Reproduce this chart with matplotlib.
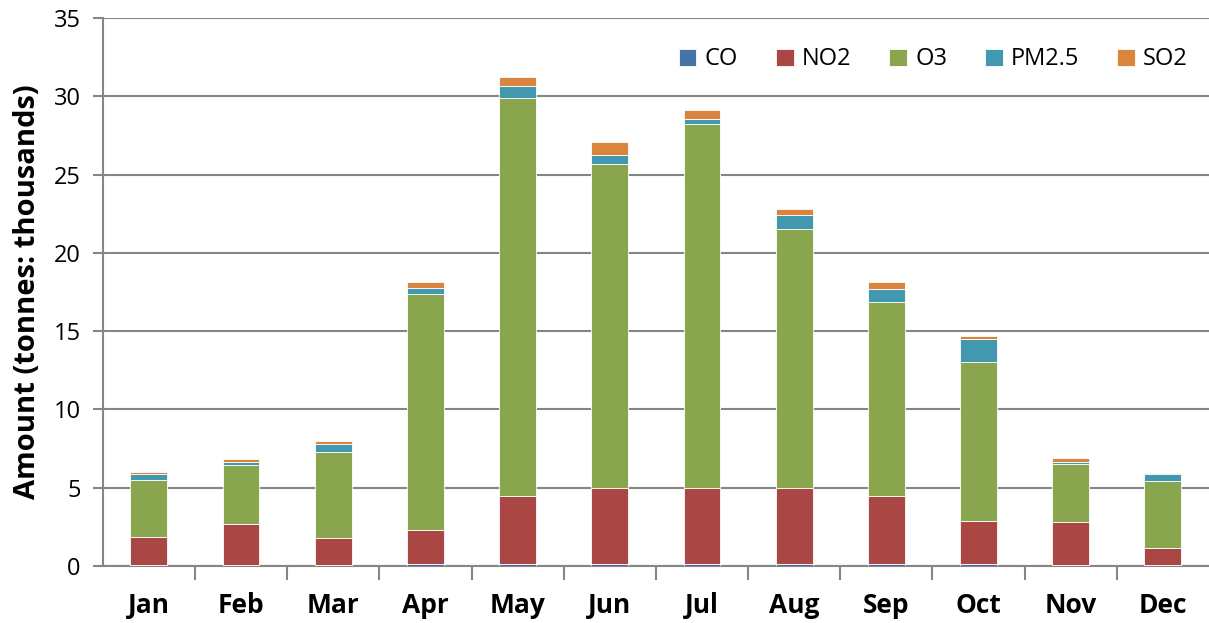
import matplotlib
matplotlib.use("Agg")
import matplotlib.pyplot as plt
import numpy as np

months = ["Jan", "Feb", "Mar", "Apr", "May", "Jun", "Jul", "Aug", "Sep", "Oct", "Nov", "Dec"]
series_names = ["CO", "NO2", "O3", "PM2.5", "SO2"]
co = [0.05, 0.04, 0.04, 0.10, 0.15, 0.15, 0.15, 0.10, 0.15, 0.15, 0.05, 0.05]
no2 = [1.81, 2.65, 1.75, 2.20, 4.35, 4.80, 4.85, 4.85, 4.30, 2.75, 2.77, 1.10]
o3 = [3.63, 3.78, 5.48, 15.10, 25.40, 20.75, 23.25, 16.60, 12.40, 10.14, 3.70, 4.26]
pm25 = [0.41, 0.18, 0.55, 0.35, 0.74, 0.55, 0.30, 0.85, 0.81, 1.46, 0.11, 0.45]
so2 = [0.10, 0.19, 0.17, 0.40, 0.62, 0.85, 0.55, 0.40, 0.51, 0.20, 0.27, 0.08]
colors = ["#4572A7", "#AA4643", "#89A54E", "#4198AF", "#DB843D"]

plt.rcParams['font.family'] = ['Open Sans', 'DejaVu Sans']

fig = plt.figure(figsize=(12.09, 6.23), dpi=100)
ax = fig.add_axes([0.085, 0.0915, 0.915, 0.8796])

x = np.arange(len(months))
bottom = np.zeros(len(months))
for name, vals, c in zip(series_names, [co, no2, o3, pm25, so2], colors):
    vals = np.array(vals)
    ax.bar(x, vals, width=0.4, bottom=bottom, color=c, edgecolor="#ffffff", linewidth=0.6,
           label=name, zorder=3)
    bottom += vals

ax.set_xlim(-0.5, 11.5)
ax.set_ylim(0, 35)
ax.set_yticks(np.arange(0, 36, 5))
ax.yaxis.grid(True, color="#868686", linewidth=1.5, zorder=0)
ax.set_axisbelow(True)

ax.set_xticks(x)
ax.set_xticklabels(months, fontsize=19, fontweight="bold")
ax.set_xticks(np.arange(0.5, 11.5, 1), minor=True)
ax.tick_params(axis="x", which="major", length=0, pad=19)
ax.tick_params(axis="x", which="minor", length=10, width=1.5, color="#868686")
ax.tick_params(axis="y", length=7, width=1.5, color="#868686", labelsize=17, pad=9)

for s in ["top", "right"]:
    ax.spines[s].set_visible(False)
for s in ["left", "bottom"]:
    ax.spines[s].set_color("#868686")
    ax.spines[s].set_linewidth(1.5)

ax.set_ylabel("Amount (tonnes: thousands)", fontsize=21, fontweight="bold", labelpad=8)

ax.legend(loc="upper right", bbox_to_anchor=(1.0, 0.985), ncol=5, frameon=False,
          fontsize=17, handlelength=0.75, handleheight=0.75, handletextpad=0.35,
          columnspacing=1.6)

fig.savefig("out.png", dpi=100)
